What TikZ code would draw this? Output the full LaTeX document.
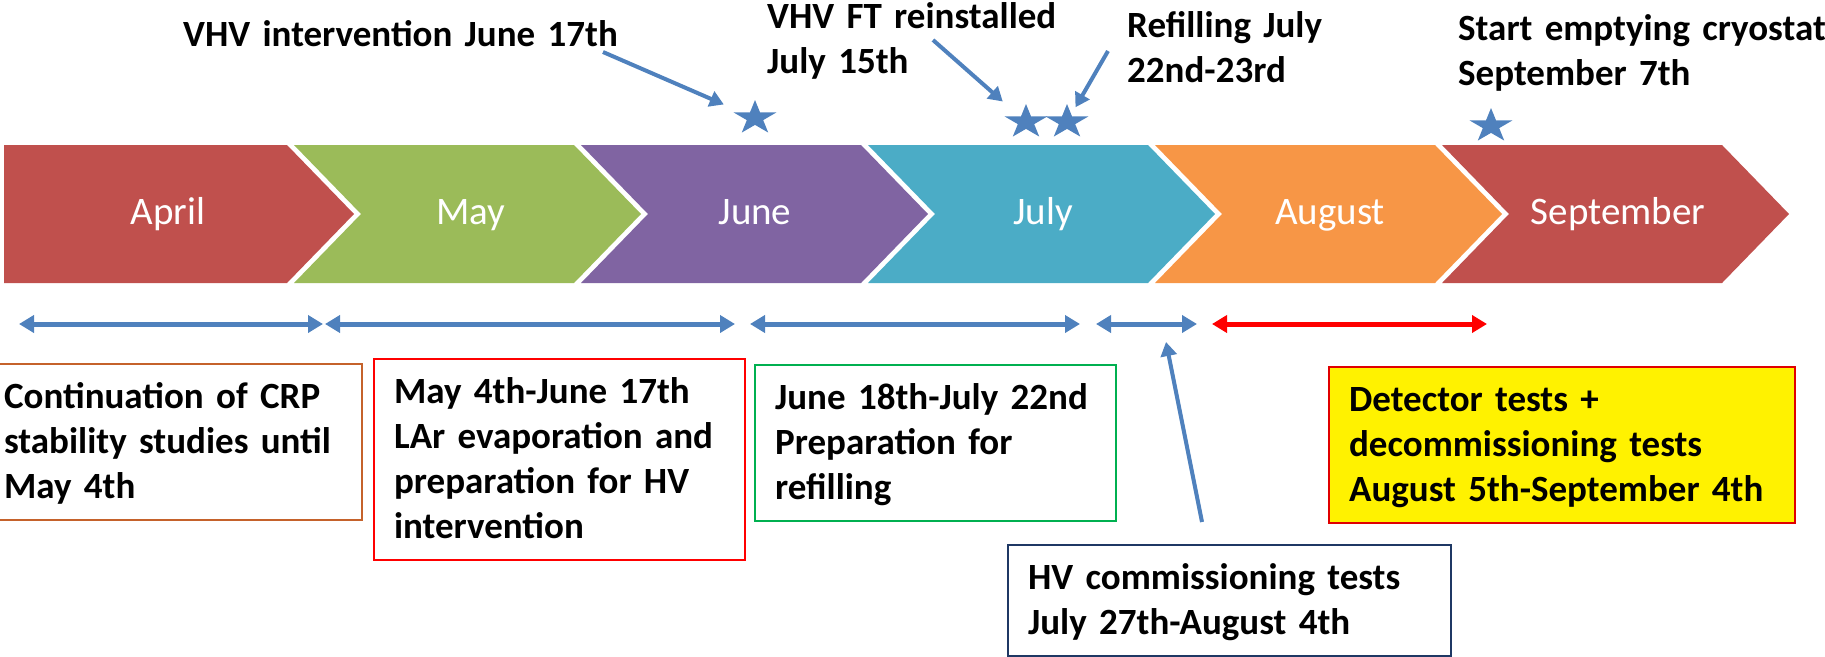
\documentclass[tikz,border=0pt]{standalone}
\usepackage{fontspec}
\setmainfont{Carlito}[WordSpace=0.75]
\usepackage{xcolor}
\usetikzlibrary{arrows.meta,shapes.geometric}
\definecolor{aprred}{HTML}{C0504D}
\definecolor{maygreen}{HTML}{9BBB59}
\definecolor{junpurple}{HTML}{8064A2}
\definecolor{julaqua}{HTML}{4BACC6}
\definecolor{augorange}{HTML}{F79646}
\definecolor{arrblue}{HTML}{4F81BD}
\definecolor{boxbrown}{HTML}{C5622B}
\definecolor{boxgreen}{HTML}{00B050}
\definecolor{boxnavy}{HTML}{1F3864}
\definecolor{boxred}{HTML}{E00000}

\begin{document}
\begin{tikzpicture}[x=1pt,y=-1pt,every node/.style={font=\fontsize{37}{45}\selectfont\bfseries},
month/.style={anchor=base,text=white,font=\fontsize{39}{45}\selectfont},
toplabel/.style={anchor=base west,inner sep=0pt,align=left,text width=640pt},
periodbox/.style={draw,line width=2.2pt,anchor=north west,inner xsep=20pt,inner ysep=0pt,text height=44pt,align=left},
starmark/.style={star,star points=5,star point ratio=2.618,minimum size=36pt,inner sep=0pt,fill=arrblue,xscale=1.25},
span/.style={{Triangle[width=17pt,length=15pt]}-{Triangle[width=17pt,length=15pt]},draw=arrblue,line width=5pt},
pointer/.style={-{Triangle[width=16pt,length=14pt]},draw=arrblue,line width=4pt}]
\useasboundingbox (0,0) rectangle (1825,656);

\fill[aprred] (4,145) -- (287,145) -- (354,214) -- (287,283) -- (4,283) -- cycle;
\foreach \i/\col in {1/maygreen,2/junpurple,3/julaqua,4/augorange,5/aprred}
  \fill[\col] ({7+287*\i},145) -- ({287+287*\i},145) -- ({354+287*\i},214) -- ({287+287*\i},283) -- ({7+287*\i},283) -- ({74+287*\i},214) -- cycle;
\node[month] (april) at (168,224) {April};
\node[month] (may) at (471,224) {May};
\node[month] (june) at (755,224) {June};
\node[month] (july) at (1043,224) {July};
\node[month] (august) at (1330,224) {August};
\node[month] (september) at (1618,224) {September};

\node[toplabel] (lbl-hvint) at (183,46) {VHV intervention June 17th};
\node[toplabel] (lbl-ft) at (767,28) {VHV FT reinstalled\\July 15th};
\node[toplabel] (lbl-refill) at (1127,37) {Refilling July\\22nd-23rd};
\node[toplabel] (lbl-empty) at (1458,40) {Start emptying cryostat\\September 7th};

\node[starmark] (s-jun17) at (755,118) {};
\node[starmark] (s-jul15) at (1026,122) {};
\node[starmark] (s-jul22) at (1067,122) {};
\node[starmark] (s-sep7) at (1491,126) {};

\coordinate (t-hvint) at (603,52);
\coordinate (t-ft) at (933,40);
\coordinate (t-refill) at (1108,51);
\draw[pointer,shorten >=34pt] (t-hvint) -- (s-jun17.center);
\draw[pointer,shorten >=31pt] (t-ft) -- (s-jul15.center);
\draw[pointer,shorten >=17pt] (t-refill) -- (s-jul22.center);

\coordinate (apr-a) at (19,324);
\coordinate (apr-b) at (323,324);
\coordinate (may-a) at (325,324);
\coordinate (may-b) at (735,324);
\coordinate (jun-a) at (750,324);
\coordinate (jun-b) at (1080,324);
\coordinate (jul-a) at (1096,324);
\coordinate (jul-b) at (1197,324);
\coordinate (aug-a) at (1212,324);
\coordinate (aug-b) at (1487,324);
\draw[span] (apr-a) -- (apr-b);
\draw[span] (may-a) -- (may-b);
\draw[span] (jun-a) -- (jun-b);
\draw[span] (jul-a) -- (jul-b);
\draw[span,draw=red] (aug-a) -- (aug-b);

\node[periodbox,draw=boxbrown,text width=338pt,text depth=112pt] (box-crp) at (-17,363) {Continuation of CRP\\stability studies until\\May 4th};
\node[periodbox,draw=red,text width=331pt,text depth=157pt] (box-lar) at (373,358) {May 4th-June 17th\\LAr evaporation and\\preparation for HV\\intervention};
\node[periodbox,draw=boxgreen,text width=321pt,text depth=112pt] (box-prep) at (754,364) {June 18th-July 22nd\\Preparation for\\refilling};
\node[periodbox,draw=boxnavy,text width=403pt,text depth=67pt] (box-hv) at (1007,544) {HV commissioning tests\\July 27th-August 4th};
\node[periodbox,draw=boxred,fill=yellow,text width=426pt,text depth=112pt] (box-det) at (1328,366) {Detector tests +\\decommissioning tests\\August 5th-September 4th};

\coordinate (t-hv) at (1202,522);
\coordinate (h-hv) at (1166,342);
\draw[pointer] (t-hv) -- (h-hv);
\end{tikzpicture}
\end{document}
